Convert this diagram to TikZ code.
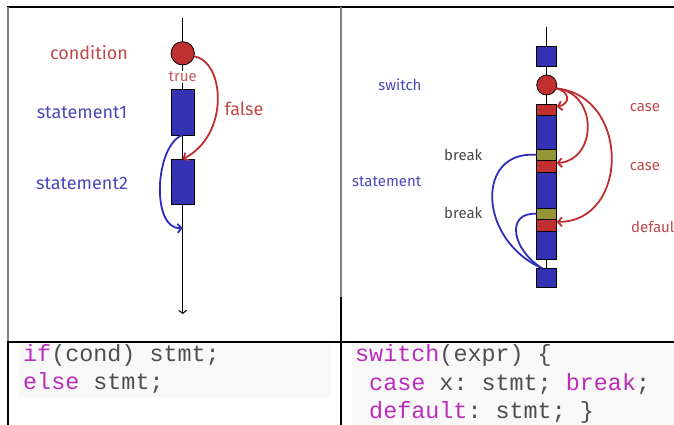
\documentclass[tikz,border=0pt]{standalone}
\usepackage{fontspec}
\setmainfont{Fira Sans}
\newfontfamily\codefont{Liberation Mono}
\usetikzlibrary{arrows.meta}

\definecolor{blockblue}{RGB}{50,50,178}
\definecolor{condred}{RGB}{192,48,48}
\definecolor{breakolive}{RGB}{150,150,55}
\definecolor{labred}{RGB}{190,72,72}
\definecolor{truered}{RGB}{196,90,90}
\definecolor{labblue}{RGB}{72,72,185}
\definecolor{labgrey}{RGB}{70,70,70}
\definecolor{flowred}{RGB}{190,45,45}
\definecolor{flowblue}{RGB}{45,45,190}
\definecolor{kw}{RGB}{185,45,185}
\definecolor{codegrey}{RGB}{78,78,78}
\definecolor{codebg}{RGB}{248,248,248}
\definecolor{rulegrey}{RGB}{130,130,130}

\begin{document}
\begin{tikzpicture}[x=1pt,y=-1pt,
  blk/.style={draw=black,line width=0.8pt,inner sep=0pt,outer sep=0pt,minimum width=#1},
  stmtblk/.style={blk=#1,fill=blockblue},
  caseblk/.style={blk=#1,fill=condred},
  breakblk/.style={blk=#1,fill=breakolive},
  decision/.style={circle,draw=black,line width=0.8pt,fill=condred,inner sep=0pt,outer sep=0pt,minimum size=#1},
  spine/.style={draw=black,line width=1pt},
  redflow/.style={draw=flowred,line width=1.8pt,-{Straight Barb[length=4pt,width=9pt]}},
  blueflow/.style={draw=flowblue,line width=1.8pt},
  biglab/.style={font=\fontsize{18}{20}\selectfont},
  smalllab/.style={font=\fontsize{15}{17}\selectfont},
  code/.style={anchor=base west,inner sep=0pt,text=codegrey,font=\codefont\fontsize{23.4}{28}\selectfont\frenchspacing}
]
\useasboundingbox (0,0) rectangle (674,425);
\clip (0,0) rectangle (674,425);

% table background cells for the code
\fill[codebg] (19,343) rectangle (331,397);
\fill[codebg] (352,343) rectangle (674,425);

% table rules
\draw[line width=2pt] (7,7.5) -- (674,7.5);
\draw[rulegrey,line width=1.5pt] (8,7) -- (8,341);
\draw[line width=1.5pt] (8,341) -- (8,425);
\draw[rulegrey,line width=1.2pt] (341,7) -- (341,297);
\draw[line width=1.5pt] (341,297) -- (341,425);
\draw[line width=2pt] (7,341.5) -- (674,341.5);

% ---------- if / else ----------
\coordinate (iftop) at (182.7,18);
\coordinate (ifbot) at (182.7,314);
\draw[spine,-{Straight Barb[length=3pt,width=8pt]}] (iftop) -- (ifbot);
\node[decision=23.4pt] (cond) at (182.7,53.3) {};
\node[stmtblk=22.6pt,minimum height=46pt] (s1) at (182.7,112) {};
\node[stmtblk=22.6pt,minimum height=45.3pt] (s2) at (182.7,181.7) {};
\coordinate (s2end) at (182.7,228);

\draw[redflow] (cond.-15) .. controls +(31,5) and +(47,-24) .. (s2.north);
\draw[blueflow,-{Straight Barb[length=4pt,width=9pt]}] (s1.south) .. controls +(-28,10) and +(-32,2) .. (s2end);

\node[biglab,text=labred] (lcond) at (89,53) {condition};
\node[biglab,text=labblue] (ls1) at (82,113) {statement1};
\node[biglab,text=labblue] (ls2) at (82,183) {statement2};
\node[biglab,text=labred] (lfalse) at (244,109) {false};
\node[font=\fontsize{15}{17}\selectfont,text=truered,fill=white,inner sep=0.5pt] (ltrue) at (182.7,77) {true};

% ---------- switch ----------
\coordinate (swtop) at (546.7,27);
\coordinate (swbot) at (546.7,280);
\draw[spine] (swtop) -- (swbot);
\node[stmtblk=20pt,minimum height=20pt] (topsq) at (546.7,56.7) {};
\node[decision=20pt] (sw) at (546.7,85) {};
\node[caseblk=20pt,minimum height=11pt] (c1) at (546.7,109.5) {};
\node[stmtblk=20pt,minimum height=34pt] (b1) at (546.7,132) {};
\node[breakblk=20pt,minimum height=11.7pt] (k1) at (546.7,154.85) {};
\node[caseblk=20pt,minimum height=12pt] (c2) at (546.7,166.7) {};
\node[stmtblk=20pt,minimum height=35.6pt] (b2) at (546.7,190.5) {};
\node[breakblk=20pt,minimum height=11pt] (k2) at (546.7,213.8) {};
\node[caseblk=20pt,minimum height=12.4pt] (c3) at (546.7,225.5) {};
\node[stmtblk=20pt,minimum height=27.6pt] (b3) at (546.7,245.5) {};
\node[stmtblk=20pt,minimum height=19pt] (botsq) at (546.7,277.8) {};

\draw[redflow] (sw.-20) .. controls +(14,3) and +(14,-3) .. (c1.15);
\draw[redflow] (sw.-20) .. controls +(42,4) and +(41,-3) .. (c2.20);
\draw[redflow] (sw.-20) .. controls +(74,7) and +(73,0) .. (c3.20);
\draw[blueflow] (k1.west) .. controls +(-62,-5) and +(-64,-28) .. (botsq.115);
\draw[blueflow] (k2.west) .. controls +(-32,-2) and +(-30,-18) .. (botsq.115);

\node[smalllab,text=labblue] (lswitch) at (400,85) {switch};
\node[smalllab,text=labblue] (lstmt) at (386.7,181.7) {statement};
\node[smalllab,text=labgrey] (lbrk1) at (463.3,155) {break};
\node[smalllab,text=labgrey] (lbrk2) at (463.3,213.3) {break};
\node[smalllab,text=labred] (lcase1) at (645,108) {case};
\node[smalllab,text=labred] (lcase2) at (645,166.7) {case};
\node[smalllab,text=labred,anchor=west,inner sep=0pt] (ldefault) at (631,226.7) {default};

% ---------- code ----------
\node[code] (ifline) at (23,361) {\textcolor{kw}{if}(cond) stmt;};
\node[code] (elseline) at (23,389.5) {\textcolor{kw}{else} stmt;};
\node[code] (swline) at (355,361) {\textcolor{kw}{switch}(expr) \{};
\node[code] (caseline) at (355,390) {\ \textcolor{kw}{case} x: stmt; \textcolor{kw}{break};};
\node[code] (defline) at (355,418) {\ \textcolor{kw}{default}: stmt; \}};
\end{tikzpicture}
\end{document}
